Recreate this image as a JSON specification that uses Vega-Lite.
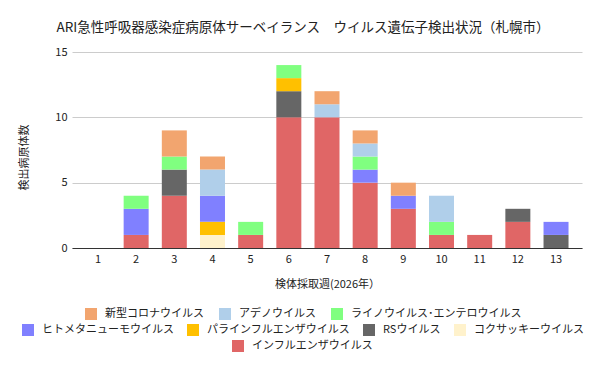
{
  "$schema": "https://vega.github.io/schema/vega-lite/v6.json",
  "width": 510,
  "height": 196,
  "autosize": {"type": "none"},
  "padding": {"left": 72, "top": 52, "right": 18, "bottom": 123},
  "background": "white",
  "config": {
    "font": "Noto Sans CJK JP",
    "view": {"stroke": null},
    "axis": {"labelFont": "Noto Sans CJK JP", "titleFont": "Noto Sans CJK JP", "labelColor": "#222", "titleColor": "#222", "labelFontSize": 11, "titleFontSize": 11, "titleFontWeight": "normal"},
    "legend": {"labelFont": "Noto Sans CJK JP", "labelFontSize": 11, "labelColor": "#222", "labelLimit": 400}
  },
  "title": {"text": "ARI急性呼吸器感染症病原体サーベイランス　ウイルス遺伝子検出状況（札幌市）", "fontSize": 13.5, "fontWeight": "normal", "color": "#222", "anchor": "middle", "dx": -24, "offset": 12},
  "data": {"values": [
    {"week": 2, "virus": "インフルエンザウイルス", "count": 1},
    {"week": 2, "virus": "ヒトメタニューモウイルス", "count": 2},
    {"week": 2, "virus": "ライノウイルス･エンテロウイルス", "count": 1},
    {"week": 3, "virus": "インフルエンザウイルス", "count": 4},
    {"week": 3, "virus": "RSウイルス", "count": 2},
    {"week": 3, "virus": "ライノウイルス･エンテロウイルス", "count": 1},
    {"week": 3, "virus": "新型コロナウイルス", "count": 2},
    {"week": 4, "virus": "コクサッキーウイルス", "count": 1},
    {"week": 4, "virus": "パラインフルエンザウイルス", "count": 1},
    {"week": 4, "virus": "ヒトメタニューモウイルス", "count": 2},
    {"week": 4, "virus": "アデノウイルス", "count": 2},
    {"week": 4, "virus": "新型コロナウイルス", "count": 1},
    {"week": 5, "virus": "インフルエンザウイルス", "count": 1},
    {"week": 5, "virus": "ライノウイルス･エンテロウイルス", "count": 1},
    {"week": 6, "virus": "インフルエンザウイルス", "count": 10},
    {"week": 6, "virus": "RSウイルス", "count": 2},
    {"week": 6, "virus": "パラインフルエンザウイルス", "count": 1},
    {"week": 6, "virus": "ライノウイルス･エンテロウイルス", "count": 1},
    {"week": 7, "virus": "インフルエンザウイルス", "count": 10},
    {"week": 7, "virus": "アデノウイルス", "count": 1},
    {"week": 7, "virus": "新型コロナウイルス", "count": 1},
    {"week": 8, "virus": "インフルエンザウイルス", "count": 5},
    {"week": 8, "virus": "ヒトメタニューモウイルス", "count": 1},
    {"week": 8, "virus": "ライノウイルス･エンテロウイルス", "count": 1},
    {"week": 8, "virus": "アデノウイルス", "count": 1},
    {"week": 8, "virus": "新型コロナウイルス", "count": 1},
    {"week": 9, "virus": "インフルエンザウイルス", "count": 3},
    {"week": 9, "virus": "ヒトメタニューモウイルス", "count": 1},
    {"week": 9, "virus": "新型コロナウイルス", "count": 1},
    {"week": 10, "virus": "インフルエンザウイルス", "count": 1},
    {"week": 10, "virus": "ライノウイルス･エンテロウイルス", "count": 1},
    {"week": 10, "virus": "アデノウイルス", "count": 2},
    {"week": 11, "virus": "インフルエンザウイルス", "count": 1},
    {"week": 12, "virus": "インフルエンザウイルス", "count": 2},
    {"week": 12, "virus": "RSウイルス", "count": 1},
    {"week": 13, "virus": "RSウイルス", "count": 1},
    {"week": 13, "virus": "ヒトメタニューモウイルス", "count": 1}
  ]},
  "layer": [
    {
      "transform": [
        {"calculate": "indexof(['インフルエンザウイルス', 'コクサッキーウイルス', 'RSウイルス', 'パラインフルエンザウイルス', 'ヒトメタニューモウイルス', 'ライノウイルス･エンテロウイルス', 'アデノウイルス', '新型コロナウイルス'], datum.virus)", "as": "stackOrder"}
      ],
      "mark": {"type": "bar"},
      "encoding": {
        "x": {"field": "week", "type": "ordinal", "scale": {"domain": [1,2,3,4,5,6,7,8,9,10,11,12,13], "paddingInner": 0.345, "paddingOuter": 0.353},
              "axis": {"title": "検体採取週(2026年）", "labelAngle": 0, "ticks": false, "domainColor": "#333", "labelPadding": 5, "titlePadding": 14}},
        "y": {"field": "count", "type": "quantitative", "aggregate": "sum", "scale": {"domain": [0, 15]},
              "axis": {"title": "検出病原体数", "values": [0, 5, 10, 15], "domain": false, "ticks": false, "gridColor": "#cccccc", "labelPadding": 5, "titleX": -43, "titleY": 105}},
        "order": {"field": "stackOrder", "type": "quantitative", "sort": "ascending"},
        "color": {"field": "virus", "type": "nominal", "legend": null,
                  "scale": {"domain": ["インフルエンザウイルス", "コクサッキーウイルス", "RSウイルス", "パラインフルエンザウイルス", "ヒトメタニューモウイルス", "ライノウイルス･エンテロウイルス", "アデノウイルス", "新型コロナウイルス"],
                            "range": ["#e06666", "#fff2cc", "#666666", "#ffc000", "#8080ff", "#80ff80", "#b0cfea", "#f2a56f"]}}
      }
    },
    {
      "mark": {"type": "square", "opacity": 0},
      "encoding": {
        "color": {"field": "virus", "type": "nominal",
                  "scale": {"domain": ["新型コロナウイルス", "アデノウイルス", "ライノウイルス･エンテロウイルス"], "range": ["#f2a56f", "#b0cfea", "#80ff80"]},
                  "legend": {"title": null, "orient": "none", "direction": "horizontal", "legendX": 13, "legendY": 256, "symbolType": "square", "symbolSize": 144, "symbolOpacity": 1, "symbolStrokeWidth": 0, "labelOffset": 8, "columnPadding": 15}}
      }
    },
    {
      "mark": {"type": "square", "opacity": 0},
      "encoding": {
        "color": {"field": "virus", "type": "nominal",
                  "scale": {"domain": ["ヒトメタニューモウイルス", "パラインフルエンザウイルス", "RSウイルス", "コクサッキーウイルス"], "range": ["#8080ff", "#ffc000", "#666666", "#fff2cc"]},
                  "legend": {"title": null, "orient": "none", "direction": "horizontal", "legendX": -50, "legendY": 272, "symbolType": "square", "symbolSize": 144, "symbolOpacity": 1, "symbolStrokeWidth": 0, "labelOffset": 8, "columnPadding": 13}}
      }
    },
    {
      "mark": {"type": "square", "opacity": 0},
      "encoding": {
        "color": {"field": "virus", "type": "nominal",
                  "scale": {"domain": ["インフルエンザウイルス"], "range": ["#e06666"]},
                  "legend": {"title": null, "orient": "none", "direction": "horizontal", "legendX": 160, "legendY": 288, "symbolType": "square", "symbolSize": 144, "symbolOpacity": 1, "symbolStrokeWidth": 0, "labelOffset": 8, "columnPadding": 16}}
      }
    }
  ],
  "resolve": {"scale": {"color": "independent"}, "legend": {"color": "independent"}}
}
